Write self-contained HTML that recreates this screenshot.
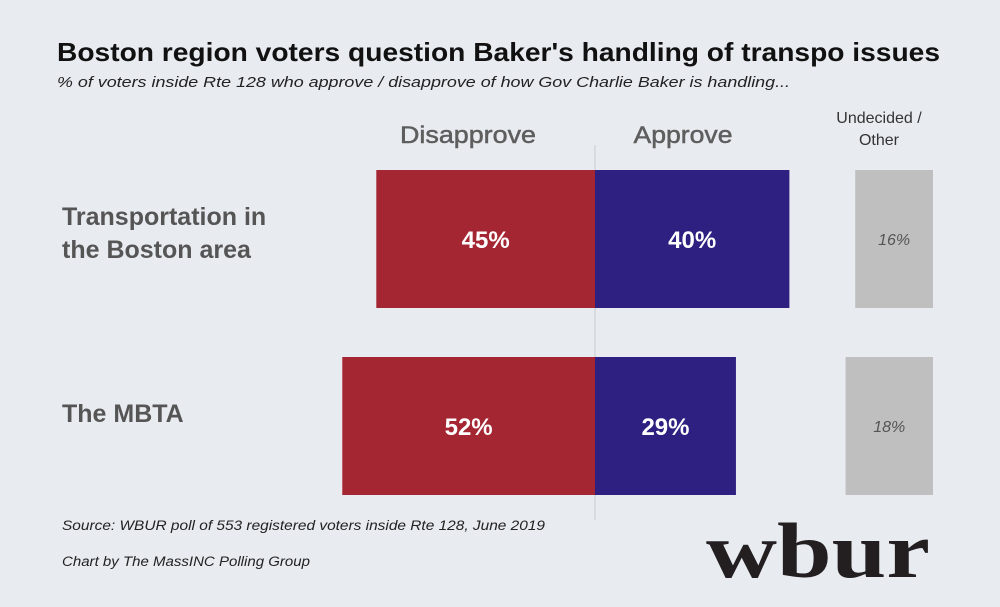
<!DOCTYPE html>
<html><head><meta charset="utf-8"><style>
html,body{margin:0;padding:0;background:#e8ecf0;}
svg{display:block;font-family:"Liberation Sans",Arial,sans-serif;}
</style></head><body>
<svg id="chart" width="1000" height="607" viewBox="0 0 1000 607">
<rect width="1000" height="607" fill="#e8ecf0"/>
<text x="57" y="61" font-size="26" font-weight="bold" fill="#111" textLength="883" lengthAdjust="spacingAndGlyphs">Boston region voters question Baker's handling of transpo issues</text>
<text x="57" y="87" font-size="15" font-style="italic" fill="#222" textLength="733" lengthAdjust="spacingAndGlyphs">% of voters inside Rte 128 who approve / disapprove of how Gov Charlie Baker is handling...</text>
<text x="468" y="143" font-size="24" fill="#5e5e5e" text-anchor="middle" stroke="#5e5e5e" stroke-width="0.5" textLength="136" lengthAdjust="spacingAndGlyphs">Disapprove</text>
<text x="683" y="143" font-size="24" fill="#5e5e5e" text-anchor="middle" stroke="#5e5e5e" stroke-width="0.5" textLength="99" lengthAdjust="spacingAndGlyphs">Approve</text>
<text x="879" y="123" font-size="16" fill="#333" text-anchor="middle">Undecided /</text>
<text x="879" y="145" font-size="16" fill="#333" text-anchor="middle">Other</text>
<line x1="595" y1="145" x2="595" y2="520" stroke="#c8ccd0" stroke-width="1"/>
<g id="bars"></g>
<text x="62" y="530" font-size="13.5" font-style="italic" fill="#222" textLength="483" lengthAdjust="spacingAndGlyphs">Source: WBUR poll of 553 registered voters inside Rte 128, June 2019</text>
<text x="62" y="566" font-size="13.5" font-style="italic" fill="#222" textLength="248" lengthAdjust="spacingAndGlyphs">Chart by The MassINC Polling Group</text>
<text x="818" y="577" font-size="78" font-weight="bold" font-family="'Liberation Serif',serif" fill="#231f20" text-anchor="middle" textLength="224" lengthAdjust="spacingAndGlyphs">wbur</text>
</svg>
<script>
const categories = ["Transportation in|the Boston area", "The MBTA"];
const disapprove = [45, 52];
const approve = [40, 29];
const undecided = [16, 18];

const ns = "http://www.w3.org/2000/svg";
const g = document.getElementById("bars");
const center = 595, scale = 4.86, undRight = 933;
const rowTop = [170, 357], barH = 138;
function x(v){ return v*scale; }
function mk(tag, attrs){ const e=document.createElementNS(ns,tag); for(const k in attrs) e.setAttribute(k,attrs[k]); g.appendChild(e); return e; }
categories.forEach((c,i)=>{
  const y = rowTop[i];
  const lines = c.split("|");
  lines.forEach((ln,j)=>{
    const t = mk("text",{x:62,y:y+ (lines.length>1 ? 55+j*33 : 65),"font-size":25,"font-weight":"bold",fill:"#555"});
    t.textContent = ln;
    
    
  });
  const d = mk("rect",{x:center-x(disapprove[i]),y:y,width:x(disapprove[i]),height:barH,fill:"#a52633"});
  
  
  const dt = mk("text",{x:center-x(disapprove[i])/2,y:y+barH/2+9,"font-size":24,"font-weight":"bold",fill:"#fff","text-anchor":"middle"});
  dt.textContent = disapprove[i]+"%";
  
  
  const a = mk("rect",{x:center,y:y,width:x(approve[i]),height:barH,fill:"#2e2080"});
  
  
  const at = mk("text",{x:center+x(approve[i])/2,y:y+barH/2+9,"font-size":24,"font-weight":"bold",fill:"#fff","text-anchor":"middle"});
  at.textContent = approve[i]+"%";
  
  
  const u = mk("rect",{x:undRight-x(undecided[i]),y:y,width:x(undecided[i]),height:barH,fill:"#bfbfbf"});
  
  
  const ut = mk("text",{x:undRight-x(undecided[i])/2,y:y+barH/2+6,"font-size":16,"font-style":"italic",fill:"#555","text-anchor":"middle"});
  ut.textContent = undecided[i]+"%";
  
  
});
</script>
</body></html>
